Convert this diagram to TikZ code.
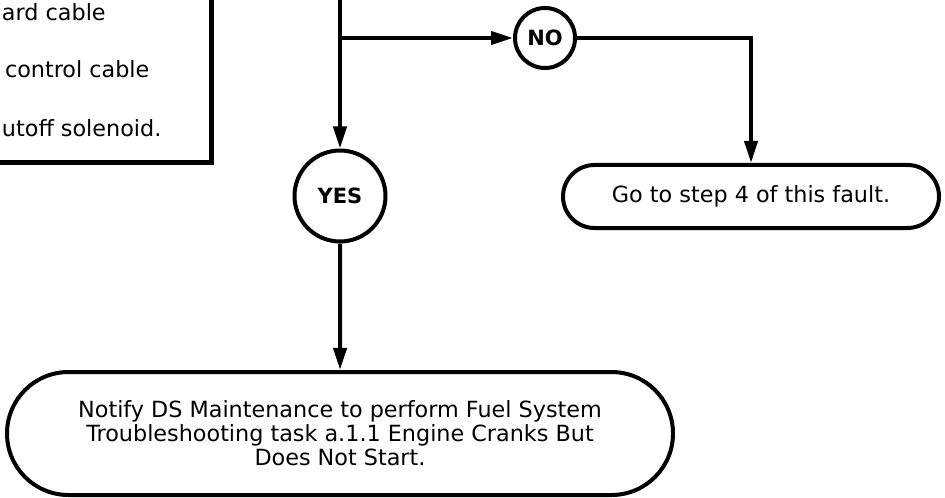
\documentclass[tikz,border=0pt]{standalone}
\usepackage{fontspec}
\setmainfont{DejaVu Sans}
\usetikzlibrary{arrows.meta,shapes.misc}
\begin{document}
\begin{tikzpicture}[x=0.5pt,y=-0.5pt,line width=2pt,
	font=\fontsize{11.15pt}{12pt}\selectfont,
	flow/.style={-{Triangle[length=11pt,width=6.5pt]}},
	answer/.style={draw,circle,inner sep=0pt,font=\fontsize{10.5pt}{12pt}\selectfont\bfseries},
	result/.style={draw,rounded rectangle,align=center,inner sep=0pt}]
	\useasboundingbox (0,0) rectangle (945,497);
	\clip (0,0) rectangle (945,497);
	
	\draw[line width=2.5pt] (-40,-40) rectangle (211,163);
	\node[anchor=base west,inner sep=0pt] (cable) at (0,21) {ard cable};
	\node[anchor=base west,inner sep=0pt] (control) at (3,78) {control cable};
	\node[anchor=base west,inner sep=0pt] (solenoid) at (0,137) {utoff solenoid.};
	
	\coordinate (top) at (340,-10);
	\coordinate (split) at (340,38);
	\node[answer,minimum size=45.5pt] (yes) at (340,196) {YES};
	\node[answer,minimum size=30pt] (no) at (545,38) {NO};
	\node[result,minimum width=188pt,minimum height=31.5pt] (step4) at (751,196.5) {Go to step 4 of this fault.};
	\node[result,minimum width=333pt,minimum height=61.5pt] (notify) at (340,433.5) {Notify DS Maintenance to perform Fuel System\\Troubleshooting task a.1.1 Engine Cranks But\\Does Not Start.};
	
	\draw (top) -- (split);
	\draw[flow] (split) -- (yes);
	\draw[flow] (split) -- (no);
	\draw[flow] (no) -| (step4);
	\draw[flow] (yes) -- (notify);
\end{tikzpicture}
\end{document}
